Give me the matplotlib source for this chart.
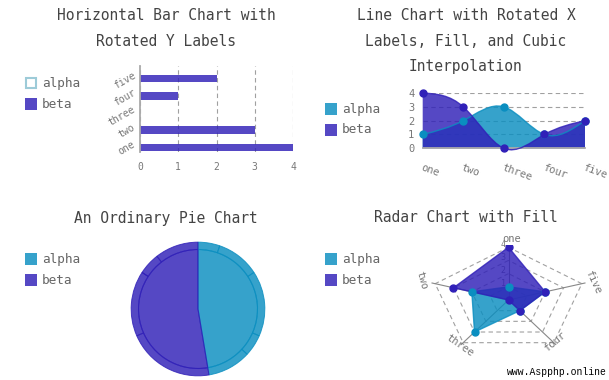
import numpy as np
import matplotlib
matplotlib.use("Agg")
import matplotlib.pyplot as plt
from matplotlib.path import Path
from matplotlib.patches import PathPatch, Rectangle

plt.rcParams['font.family'] = ['DejaVu Sans Mono']

# data
labels = ['one', 'two', 'three', 'four', 'five']
alpha = [1, 2, 3, 1, 2]
beta = [4, 3, 0, 1, 2]
series = ['alpha', 'beta']

A_COL = '#0a8ec0'
B_COL = '#3020b8'
OP = 0.82
TITLE_C = '#444444'
LAB_C = '#777777'
GRID_C = '#a0a0a0'

W, H = 609, 380
fig = plt.figure(figsize=(W / 100, H / 100), dpi=100)


def box(l, t, r, b):
    return [l / W, 1 - b / H, (r - l) / W, (b - t) / H]


def ftext(x, y, s, **kw):
    fig.text(x / W, 1 - y / H, s, **kw)


def title(cx, ys, lines):
    for y, s in zip(ys, lines):
        ftext(cx, y, s, ha='center', va='center', fontsize=10.5, color=TITLE_C)


def legend(x, ys, hollow=None):
    cols = [A_COL, B_COL]
    for i, (y, name) in enumerate(zip(ys, series)):
        if hollow == i:
            r = Rectangle(((x + 1) / W, 1 - (y + 5) / H), 10 / W, 10 / H,
                          transform=fig.transFigure, facecolor='white',
                          edgecolor='#9dcbd8', lw=1.5)
        else:
            r = Rectangle((x / W, 1 - (y + 6) / H), 12 / W, 12 / H,
                          transform=fig.transFigure, facecolor=cols[i],
                          alpha=OP, edgecolor='none')
        fig.patches.append(r)
        ftext(x + 17, y, name, ha='left', va='center', fontsize=9.2, color='#666666')


# ---------- horizontal bar chart ----------
title(166, [15, 41.5], ['Horizontal Bar Chart with', 'Rotated Y Labels'])
legend(25, [83, 104], hollow=0)
ax = fig.add_axes(box(140, 66, 293, 152))
pos = np.arange(len(labels))
ax.barh(pos - 0.23, beta, height=0.44, color=B_COL, alpha=OP)
ax.set_xlim(0, 4)
ax.set_ylim(-0.5, 4.5)
ax.set_xticks(range(5))
ax.set_yticks(pos)
ax.set_yticklabels(labels, rotation=30, ha='right', va='center',
                   rotation_mode='anchor')
ax.tick_params(length=0, labelsize=7, labelcolor=LAB_C)
ax.tick_params(axis='x', pad=7)
ax.tick_params(axis='y', pad=4)
ax.xaxis.grid(True, ls=(0, (4, 3)), color=GRID_C, lw=0.8)
ax.set_axisbelow(True)
for s in ['top', 'right', 'bottom']:
    ax.spines[s].set_visible(False)
ax.spines['left'].set_color('#aaaaaa')
ax.spines['left'].set_linewidth(1.3)


# ---------- line chart with cubic interpolation ----------
def spline_path(ys):
    y = np.asarray(ys, float)
    n = len(y)
    A = np.zeros((n, n))
    rhs = np.zeros(n)
    A[0, 0] = A[-1, -1] = 1
    for i in range(1, n - 1):
        A[i, i - 1:i + 2] = [1, 4, 1]
        rhs[i] = 6 * (y[i - 1] - 2 * y[i] + y[i + 1])
    M = np.linalg.solve(A, rhs)
    d = np.zeros(n)
    for i in range(n - 1):
        d[i] = (y[i + 1] - y[i]) - (2 * M[i] + M[i + 1]) / 6
    d[-1] = (y[-1] - y[-2]) + (M[-2] + 2 * M[-1]) / 6
    verts = [(0, y[0])]
    codes = [Path.MOVETO]
    for i in range(n - 1):
        verts += [(i + 1 / 3, y[i] + d[i] / 3),
                  (i + 1 - 1 / 3, y[i + 1] - d[i + 1] / 3),
                  (i + 1, y[i + 1])]
        codes += [Path.CURVE4] * 3
    return verts, codes


title(466, [15, 41.5, 67], ['Line Chart with Rotated X',
                            'Labels, Fill, and Cubic', 'Interpolation'])
legend(325, [109, 130])
ax = fig.add_axes(box(422.7, 93, 585, 148.3))
ax.set_xlim(0, 4)
ax.set_ylim(0, 4)
for vals, col in [(alpha, A_COL), (beta, B_COL)]:
    v, c = spline_path(vals)
    fv = v + [(len(vals) - 1, 0), (0, 0), (0, 0)]
    fc = c + [Path.LINETO, Path.LINETO, Path.CLOSEPOLY]
    ax.add_patch(PathPatch(Path(fv, fc), facecolor=col, alpha=OP,
                           edgecolor='none', clip_on=False, zorder=2))
    ax.add_patch(PathPatch(Path(v, c), facecolor='none', edgecolor=col,
                           lw=1, alpha=OP, clip_on=False, zorder=3))
    ax.plot(range(len(vals)), vals, 'o', color=col, ms=5, clip_on=False, zorder=4)
ax.set_xticks(range(5))
ax.set_xticklabels(labels, rotation=-20, ha='left', va='top', rotation_mode='anchor')
ax.set_yticks(range(5))
ax.tick_params(length=0, labelsize=7.5, labelcolor=LAB_C)
ax.tick_params(axis='x', pad=10)
ax.tick_params(axis='y', pad=6)
ax.yaxis.grid(True, ls=(0, (4, 3)), color=GRID_C, lw=0.8)
ax.set_axisbelow(True)
for s in ['top', 'right', 'left']:
    ax.spines[s].set_visible(False)
ax.spines['bottom'].set_color('#aaaaaa')
ax.spines['bottom'].set_linewidth(1.3)


# ---------- pie chart ----------
title(166, [218], ['An Ordinary Pie Chart'])
legend(25, [259, 280])
ax = fig.add_axes(box(130.5, 241.5, 265.5, 376.5))
ring_vals = alpha + beta
ring_cols = [A_COL] * len(alpha) + [B_COL] * len(beta)
wp = dict(width=0.11, lw=0.7, alpha=OP)
wedges, _ = ax.pie(ring_vals, colors=ring_cols, radius=1.0, startangle=90,
                   counterclock=False, wedgeprops=wp)
for w, c in zip(wedges, ring_cols):
    w.set_edgecolor(c)
wedges, _ = ax.pie([sum(alpha), sum(beta)], colors=[A_COL, B_COL], radius=0.89,
                   startangle=90, counterclock=False, wedgeprops=dict(lw=0.8, alpha=OP))
for w, c in zip(wedges, [A_COL, B_COL]):
    w.set_edgecolor(c)
ax.set_xlim(-1.01, 1.01)
ax.set_ylim(-1.01, 1.01)


# ---------- radar chart ----------
title(466, [218], ['Radar Chart with Fill'])
legend(325, [259, 280])
RV = 4.17
ax = fig.add_axes(box(428.1, 245, 588.9, 355))
ax.set_xlim(-RV, RV)
ax.set_ylim(-RV, RV)
ax.axis('off')
ang = np.deg2rad(90 + 72 * np.arange(len(labels)))
cx, cy = np.cos(ang), np.sin(ang)
for lv in range(1, 5):
    ax.plot(np.append(cx, cx[0]) * lv, np.append(cy, cy[0]) * lv,
            ls=(0, (4, 3)), color=GRID_C, lw=0.8, zorder=1)
    ax.text(-0.15, lv - 0.1, str(lv), ha='right', va='bottom', fontsize=6,
            color=LAB_C, zorder=1)
for x, y in zip(cx, cy):
    ax.plot([0, x * RV], [0, y * RV], color='#888888', lw=0.8, zorder=1)
for vals, col in [(alpha, A_COL), (beta, B_COL)]:
    v = np.asarray(vals, float)
    ax.fill(cx * v, cy * v, color=col, alpha=OP, lw=1, zorder=2)
    ax.plot(cx * v, cy * v, 'o', color=col, ms=5, zorder=4)
offs = [(3, 6), (-10, 3), (-1, -1), (-1, 3), (8, 1)]
rots = [0, -75, -35, 40, -65]
for i, name in enumerate(labels):
    ax.annotate(name, (cx[i] * RV, cy[i] * RV), xytext=offs[i],
                textcoords='offset pixels', ha='center', va='center',
                rotation=rots[i], fontsize=7.5, color=LAB_C, annotation_clip=False)

ftext(607, 372, 'www.Aspphp.online', ha='right', va='center', fontsize=7,
      color='black', family='Liberation Mono')

fig.savefig('out.png', dpi=100)
